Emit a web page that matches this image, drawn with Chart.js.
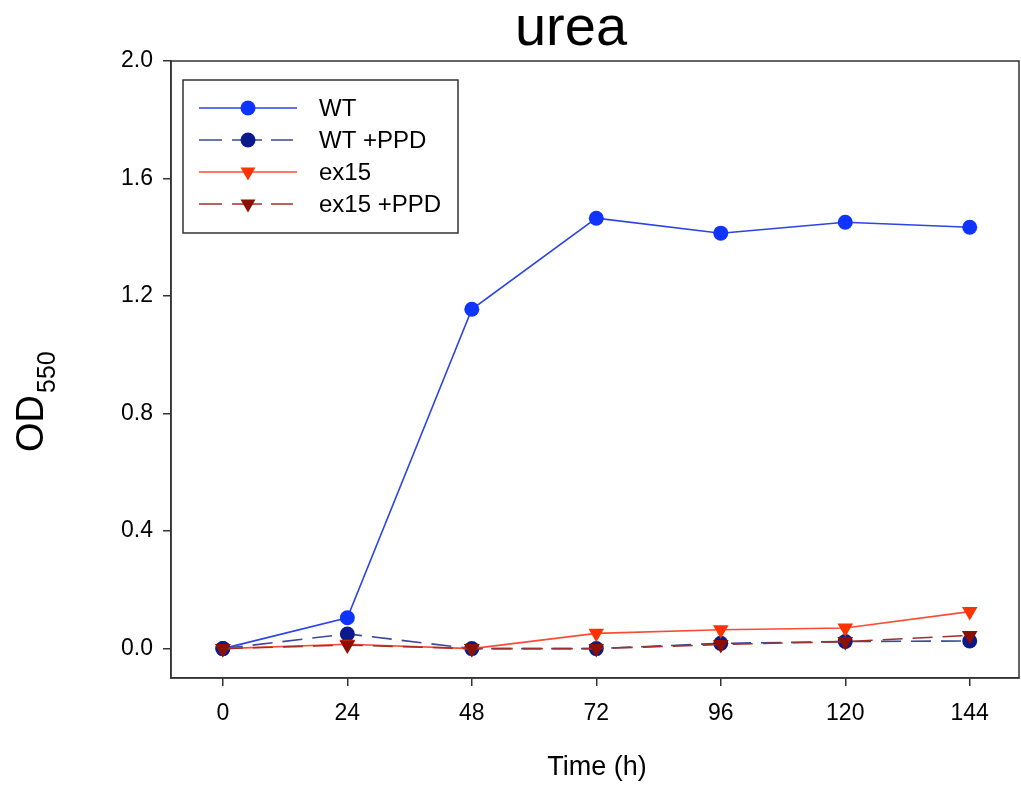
<!DOCTYPE html>
<html>
<head>
<meta charset="utf-8">
<script src="https://cdn.jsdelivr.net/npm/chart.js@4/dist/chart.umd.min.js"></script>
<style>
  html,body{margin:0;background:#fff;overflow:hidden;}
  #wrap{width:1021px;height:786px;position:relative;}
  canvas{display:block;}
</style>
</head>
<body>
<div id="wrap"><canvas id="c"></canvas></div>
<script>
const hours = [0,24,48,72,96,120,144];
const wt = [0.0, 0.105, 1.155, 1.465, 1.414, 1.451, 1.434];
const wtPPD = [0.0, 0.05, 0.0, 0.0, 0.018, 0.024, 0.026];
const ex15 = [0.0, 0.015, 0.0, 0.052, 0.064, 0.07, 0.126];
const ex15PPD = [0.0, 0.012, 0.0, 0.0, 0.014, 0.024, 0.045];
const xTicks = [0,24,48,72,96,120,144];
const yTicks = [0,0.4,0.8,1.2,1.6,2.0];
const seriesNames = ["WT","WT +PPD","ex15","ex15 +PPD"];

const FONT = "'Liberation Sans', Arial, sans-serif";
const pts = arr => hours.map((h,i)=>({x:h,y:arr[i]}));

function ds(label,data,line,mark,dash,style,order){
    return {
        label:label,
        data:pts(data),
        borderColor:line,
        backgroundColor:mark,
        pointBackgroundColor:mark,
        pointBorderColor:mark,
        pointBorderWidth:0,
        pointRadius:style==='triangle'?9:7.5,
        pointStyle:style,
        pointRotation:style==='triangle'?180:0,
        borderWidth:1.6,
        borderDash:dash,
        tension:0,
        order:order
    };
}

// frame, titles and the boxed legend
const decor = {
    id:'decor',
    afterDraw(chart){
        const ctx = chart.ctx, a = chart.chartArea;
        ctx.save();
        ctx.strokeStyle = '#333';
        ctx.lineWidth = 1.5;
        ctx.strokeRect(a.left, a.top, a.right-a.left, a.bottom-a.top);

        ctx.fillStyle = '#000';
        ctx.font = '56px '+FONT;
        ctx.textAlign = 'center';
        ctx.textBaseline = 'alphabetic';
        ctx.fillText('urea', 571, 45);

        ctx.font = '27px '+FONT;
        ctx.fillText('Time (h)', 597, 775);

        // y title with subscript
        ctx.save();
        ctx.translate(43, 452);
        ctx.rotate(-Math.PI/2);
        ctx.textAlign = 'left';
        ctx.font = '38px '+FONT;
        ctx.fillText('OD', 0, 0);
        const w = ctx.measureText('OD').width;
        ctx.font = '25px '+FONT;
        ctx.fillText('550', w+2, 12);
        ctx.restore();

        // legend
        ctx.strokeStyle = '#333';
        ctx.lineWidth = 1.5;
        ctx.strokeRect(183, 80, 275, 153);
        const rows = [108, 140, 172, 204];
        chart.data.datasets.forEach((d,i)=>{
            const y = rows[i];
            ctx.strokeStyle = d.borderColor;
            ctx.lineWidth = 1.6;
            const segs = d.borderDash.length ? [[199,222],[232,262],[271,293]] : [[199,297]];
            ctx.beginPath();
            segs.forEach(s=>{ctx.moveTo(s[0], y); ctx.lineTo(s[1], y);});
            ctx.stroke();
            ctx.fillStyle = d.pointBackgroundColor;
            ctx.beginPath();
            if(d.pointStyle==='circle'){
                ctx.arc(248, y, 7.5, 0, Math.PI*2);
            }else{
                ctx.moveTo(248-7.5, y-4.5);
                ctx.lineTo(248+7.5, y-4.5);
                ctx.lineTo(248, y+8.5);
                ctx.closePath();
            }
            ctx.fill();
            ctx.fillStyle = '#000';
            ctx.font = '24px '+FONT;
            ctx.textAlign = 'left';
            ctx.textBaseline = 'middle';
            ctx.fillText(seriesNames[i], 319, y+1);
        });
        ctx.restore();
    }
};

new Chart(document.getElementById('c'),{
    type:'line',
    data:{
        datasets:[
            ds(seriesNames[0], wt, '#2a44e6', '#1034ff', [], 'circle', 3),
            ds(seriesNames[1], wtPPD, '#3a4a98', '#0a1a8c', [20,10], 'circle', 2),
            ds(seriesNames[2], ex15, '#ff4a33', '#ff3300', [], 'triangle', 1),
            ds(seriesNames[3], ex15PPD, '#a0302a', '#8b1000', [20,10], 'triangle', 0)
        ]
    },
    options:{
        responsive:true,
        maintainAspectRatio:false,
        animation:false,
        layout:{autoPadding:false,padding:{top:61,right:2,left:0,bottom:0}},
        plugins:{legend:{display:false},title:{display:false},tooltip:{enabled:false}},
        scales:{
            x:{
                type:'linear',
                min:-10,max:153.5,
                afterBuildTicks:s=>{s.ticks = xTicks.map(v=>({value:v}));},
                afterFit:s=>{s.height = 108; s.paddingLeft = 0; s.paddingRight = 0;},
                grid:{display:true,drawOnChartArea:false,drawTicks:true,tickLength:8,color:'#333',lineWidth:1.5},
                border:{display:true,color:'#333',width:1.5},
                ticks:{color:'#000',font:{size:23,family:FONT},padding:14,maxRotation:0}
            },
            y:{
                min:-0.1,max:2.0,
                afterBuildTicks:s=>{s.ticks = yTicks.map(v=>({value:v}));},
                afterFit:s=>{s.width = 171; s.paddingTop = 0; s.paddingBottom = 0;},
                grid:{display:true,drawOnChartArea:false,drawTicks:true,tickLength:8,color:'#333',lineWidth:1.5},
                border:{display:true,color:'#333',width:1.5},
                ticks:{color:'#000',font:{size:23,family:FONT},padding:10,callback:v=>v.toFixed(1)}
            }
        }
    },
    plugins:[decor]
});
</script>
</body>
</html>
